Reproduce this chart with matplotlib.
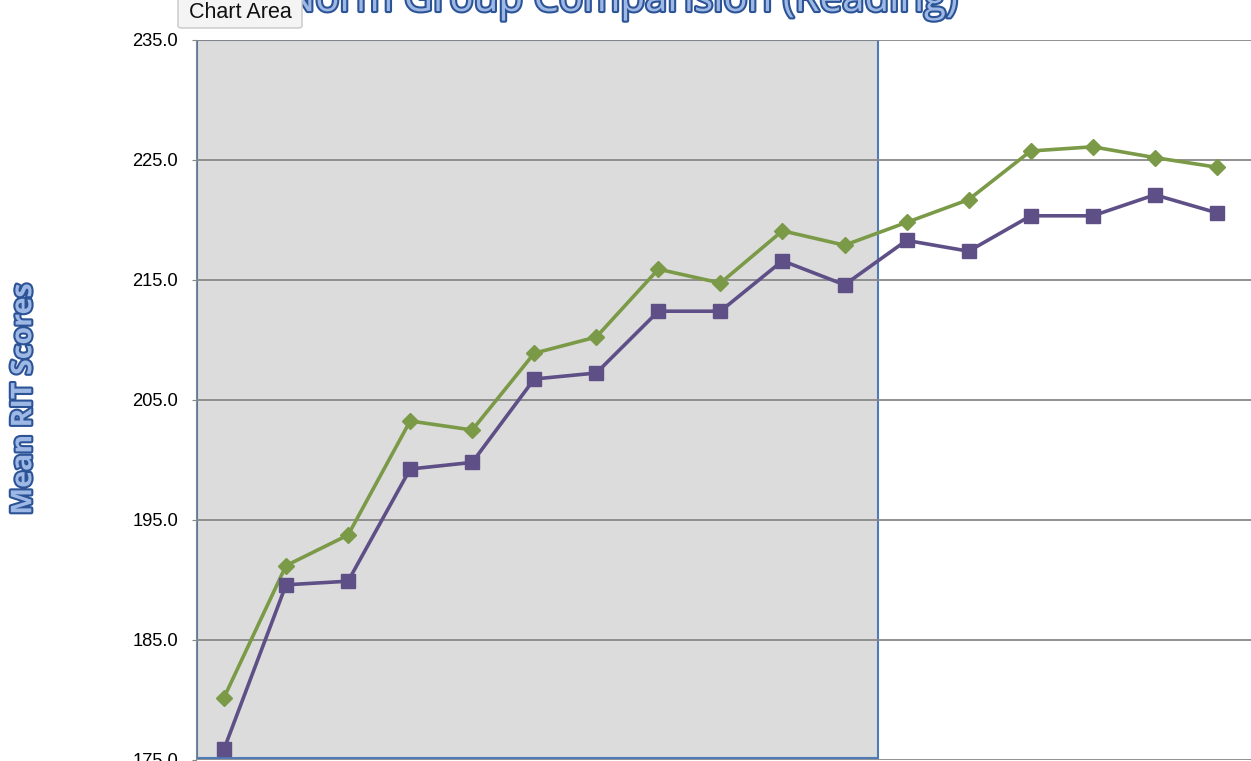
import matplotlib.pyplot as plt
import matplotlib.patheffects as pe
from matplotlib.patches import FancyBboxPatch

# data (17 test windows)
periods = list(range(17))
norm_scores = [180.2, 191.2, 193.75, 203.25, 202.5, 208.9, 210.25, 215.9, 214.75,
               219.1, 217.9, 219.8, 221.7, 225.75, 226.1, 225.2, 224.4]
group_scores = [175.9, 189.6, 189.9, 199.25, 199.8, 206.75, 207.25, 212.4, 212.4,
                216.6, 214.6, 218.3, 217.4, 220.35, 220.35, 222.1, 220.6]
y_ticks = [175.0, 185.0, 195.0, 205.0, 215.0, 225.0, 235.0]

green = '#7B9A47'
purple = '#5E4F87'
title_fx = [pe.Stroke(linewidth=3, foreground='#2B5396'), pe.Normal()]

fig = plt.figure(figsize=(12.51, 7.61), dpi=100)
ax = fig.add_axes([196 / 1251, 1 / 761, 1055 / 1251, 720 / 761])

ax.set_xlim(-0.451, 16.55)
ax.set_ylim(175, 235)

# selection highlight (chart area hover)
ax.axvspan(-0.44, 10.54, ymin=0.003, ymax=1.0, facecolor='#DCDCDC',
           edgecolor='#4F7BB8', linewidth=1.5, zorder=0)

ax.set_yticks(y_ticks)
ax.set_yticklabels([f'{v:.1f}' for v in y_ticks], fontsize=13.2, family='Liberation Sans')
ax.tick_params(axis='y', length=3, pad=10, color='#888888')
ax.set_xticks([])
ax.grid(axis='y', color='#888888', linewidth=1.3, zorder=1)
ax.set_axisbelow(True)
for side in ['top', 'right', 'bottom']:
    ax.spines[side].set_visible(False)
ax.spines['left'].set_color('#888888')
ax.set_facecolor('white')

ax.plot(periods, norm_scores, color=green, linewidth=2.6, marker='D', markersize=8.5, zorder=3)
ax.plot(periods, group_scores, color=purple, linewidth=2.6, marker='s', markersize=10.5, zorder=3)

# title, cut off at the top like the screenshot
fig.text(0.497, 1 - 11 / 761, 'Norm Group Comparision (Reading)', ha='center', va='baseline',
         fontsize=29, color='#9DB8E4', family='Open Sans', path_effects=title_fx)

fig.text(0.019, 1 - 399 / 761, 'Mean RIT Scores', rotation=90, ha='center', va='center',
         fontsize=20.6, fontweight='bold', color='#9DB8E4', family='Open Sans',
         path_effects=title_fx)

# tooltip box
tip = FancyBboxPatch((178 / 1251, 1 - 28 / 761), 124 / 1251, 32 / 761,
                     boxstyle='round,pad=0,rounding_size=0.003', transform=fig.transFigure,
                     facecolor='#F4F4F4', edgecolor='#C8C8C8', linewidth=1, zorder=10)
fig.patches.append(tip)
fig.text(240 / 1251, 1 - 12 / 761, 'Chart Area', ha='center', va='center',
         fontsize=15.5, color='#111111', family='Liberation Sans', zorder=11)

fig.savefig('out.png', dpi=100)
